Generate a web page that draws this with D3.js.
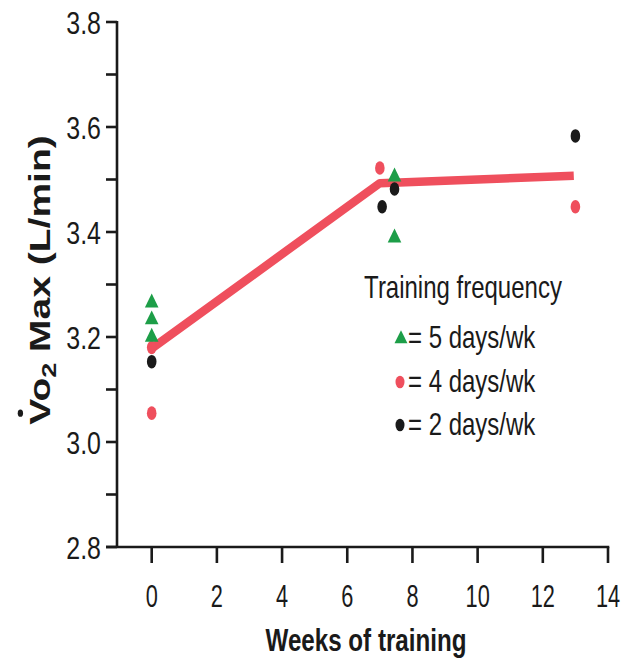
<!DOCTYPE html>
<html>
<head>
<meta charset="utf-8">
<script src="https://cdn.jsdelivr.net/npm/d3@7"></script>
<style>
  html, body { margin: 0; padding: 0; background: #fff; }
  svg { display: block; }
  text { font-family: "Liberation Sans", Arial, Helvetica, sans-serif; fill: #1a1a1a; }
</style>
</head>
<body>
<svg id="chart" width="629" height="662"></svg>
<script>
// ---- data ----
const xTicks = [0, 2, 4, 6, 8, 10, 12, 14];
const yMinorTicks = [2.8, 2.9, 3.0, 3.1, 3.2, 3.3, 3.4, 3.5, 3.6, 3.7, 3.8];
const yLabelTicks = ["2.8", "3.0", "3.2", "3.4", "3.6", "3.8"];

const weeks5 = [0, 0, 0, 7.45, 7.45];
const vo2_5  = [3.265, 3.233, 3.200, 3.505, 3.389];

const weeks4 = [0, 0, 7.0, 13.0];
const vo2_4  = [3.055, 3.180, 3.522, 3.448];

const weeks2 = [0, 7.07, 7.45, 13.0];
const vo2_2  = [3.153, 3.448, 3.482, 3.583];

const lineWeeks = [0, 7.0, 12.95];
const lineVo2   = [3.178, 3.493, 3.507];

const legendTitle = "Training frequency";
const legendItems = ["= 5 days/wk", "= 4 days/wk", "= 2 days/wk"];
const xTitle = "Weeks of training";

// ---- styles ----
const GREEN = "#1d9e48";
const RED = "#ef4f5d";
const BLACK = "#1a1a1a";

const svg = d3.select("#chart");
const x = d3.scaleLinear().domain([0, 14]).range([151.7, 608]);
const y = d3.scaleLinear().domain([2.8, 3.8]).range([547, 22]);

function ctext(g, str, px, py, size, sx, anchor, weight) {
  return g.append("text")
    .attr("transform", `translate(${px},${py}) scale(${sx},1)`)
    .attr("text-anchor", anchor)
    .attr("font-size", size)
    .attr("font-weight", weight || "normal")
    .text(str);
}

// axes lines
const axisG = svg.append("g").attr("stroke", BLACK).attr("stroke-width", 2.6);
axisG.append("line").attr("x1", 117).attr("x2", 117).attr("y1", y(3.8) - 1).attr("y2", y(2.8));
axisG.append("line").attr("x1", 106).attr("x2", x(14) + 1.3).attr("y1", y(2.8)).attr("y2", y(2.8));

// y ticks
axisG.selectAll(".yt").data(yMinorTicks).join("line")
  .attr("x1", 106).attr("x2", 117)
  .attr("y1", d => y(d)).attr("y2", d => y(d));
// x ticks
axisG.selectAll(".xt").data(xTicks).join("line")
  .attr("x1", d => x(d)).attr("x2", d => x(d))
  .attr("y1", y(2.8)).attr("y2", y(2.8) + 16);

// tick labels
const lab = svg.append("g");
yLabelTicks.forEach(t => ctext(lab, t, 101, y(+t) + 11.5, 32, 0.78, "end"));
xTicks.forEach(t => ctext(lab, String(t), x(t), 607, 32, 0.68, "middle"));

// axis titles
ctext(lab, xTitle, 366, 651, 31, 0.78, "middle", "bold");

const ytG = lab.append("g").attr("transform", "translate(50,280) rotate(-90) scale(1,0.74)");
const yt = ytG.append("text")
  .attr("text-anchor", "middle")
  .attr("font-size", 39)
  .attr("font-weight", "bold");
yt.append("tspan").text("Vo");
yt.append("tspan").attr("font-size", 27).attr("dy", 8).text("2");
yt.append("tspan").attr("dy", -8).text(" Max (L/min)");
// over-dot of V-dot (rate symbol)
let vx = -118;
try {
  const ext = yt.node().getExtentOfChar(0);
  vx = ext.x + ext.width / 2;
} catch (e) {}
ytG.append("circle").attr("cx", vx).attr("cy", -40).attr("r", 3.6).attr("fill", BLACK);

// mean line
const line = d3.line().x(d => x(d[0])).y(d => y(d[1]));
svg.append("path")
  .datum(d3.zip(lineWeeks, lineVo2))
  .attr("d", line)
  .attr("fill", "none")
  .attr("stroke", RED)
  .attr("stroke-width", 8.5)
  .attr("stroke-linejoin", "round");

// markers
const tri = d3.symbol().type(d3.symbolTriangle).size(80)();
function triangles(g, pts) {
  g.selectAll(null).data(pts).join("path")
    .attr("d", tri)
    .attr("transform", d => `translate(${x(d[0])},${y(d[1])}) scale(1,1.18)`)
    .attr("fill", GREEN);
}
function dots(g, pts, col) {
  g.selectAll(null).data(pts).join("ellipse")
    .attr("cx", d => x(d[0])).attr("cy", d => y(d[1]))
    .attr("rx", 4.8).attr("ry", 6.8)
    .attr("fill", col);
}
const mk = svg.append("g");
dots(mk.append("g"), d3.zip(weeks4, vo2_4), RED);
dots(mk.append("g"), d3.zip(weeks2, vo2_2), BLACK);
triangles(mk.append("g"), d3.zip(weeks5, vo2_5));

// legend
const lg = svg.append("g");
ctext(lg, legendTitle, 463, 298, 32, 0.75, "middle");
const rows = [348, 392, 435];
legendItems.forEach((t, i) => ctext(lg, t, 408, rows[i], 32, 0.75, "start"));
lg.append("path").attr("d", tri).attr("transform", `translate(401,${rows[0] - 9}) scale(0.95,1.1)`).attr("fill", GREEN);
lg.append("ellipse").attr("cx", 400).attr("cy", rows[1] - 10).attr("rx", 4.5).attr("ry", 6.3).attr("fill", RED);
lg.append("ellipse").attr("cx", 400).attr("cy", rows[2] - 10).attr("rx", 4.5).attr("ry", 6.3).attr("fill", BLACK);
</script>
</body>
</html>
